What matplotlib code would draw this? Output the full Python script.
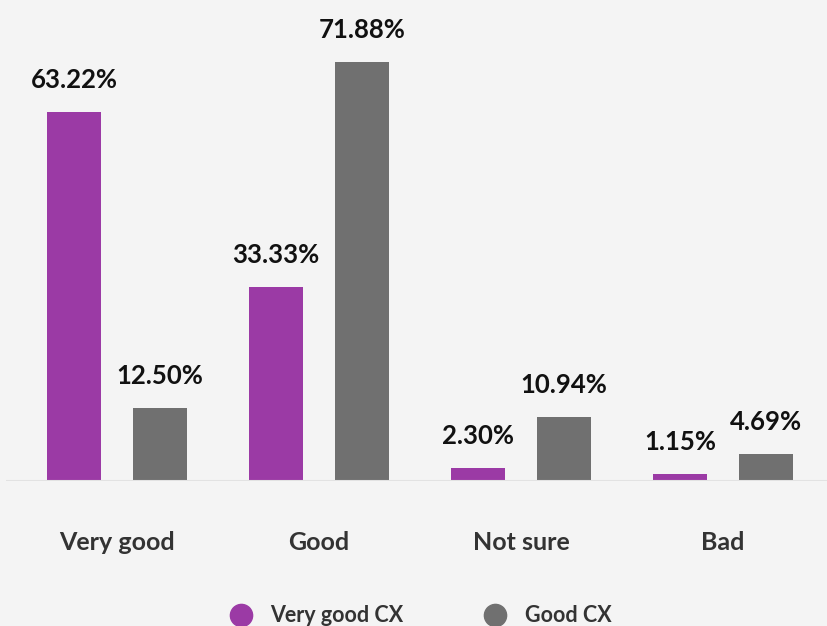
import numpy as np
import matplotlib.pyplot as plt
from matplotlib.lines import Line2D

# survey answers per CX group
categories = ["Very good", "Good", "Not sure", "Bad"]
very_good_cx = [63.22, 33.33, 2.30, 1.15]
good_cx = [12.50, 71.88, 10.94, 4.69]
series_names = ["Very good CX", "Good CX"]

PURPLE = "#9b3aa5"
GREY = "#707070"
BG = "#f4f4f4"
TEXT = "#333333"

plt.rcParams["font.family"] = ["Lato", "DejaVu Sans"]

fig = plt.figure(figsize=(8.27, 6.26), dpi=100, facecolor=BG)
ax = fig.add_axes([6 / 827, 145 / 626, 821 / 827, 481 / 626])
ax.set_facecolor(BG)

x = np.arange(len(categories))
width = 0.267
offset = 0.213

bars1 = ax.bar(x - offset, very_good_cx, width, color=PURPLE)
bars2 = ax.bar(x + offset, good_cx, width, color=GREY)

# value labels above each bar
for bars, vals in [(bars1, very_good_cx), (bars2, good_cx)]:
    for b, v in zip(bars, vals):
        ax.annotate(f"{v:.2f}%", (b.get_x() + b.get_width() / 2, v),
                    xytext=(0, 23), textcoords="offset points",
                    ha="center", va="center", fontsize=18.5,
                    fontweight="bold", color="#111111")

ax.set_xlim(-0.5495, 3.515)
ax.set_ylim(0, 82.5)
ax.axhline(0, color="#e2e2e2", lw=1.5)

for s in ax.spines.values():
    s.set_visible(False)
ax.set_yticks([])
ax.set_xticks(x)
ax.set_xticklabels(categories, fontsize=18, fontweight="bold", color=TEXT)
ax.tick_params(axis="x", length=0, pad=36)

handles = [Line2D([], [], marker="o", ls="", markersize=16, color=c)
           for c in (PURPLE, GREY)]
fig.legend(handles, series_names, loc="center", ncol=2,
           bbox_to_anchor=(0.502, 0.016), frameon=False,
           prop={"size": 15.5, "weight": "bold"}, labelcolor=TEXT,
           handletextpad=0.35, columnspacing=3.3)

fig.savefig("out.png", dpi=100, facecolor=BG)
